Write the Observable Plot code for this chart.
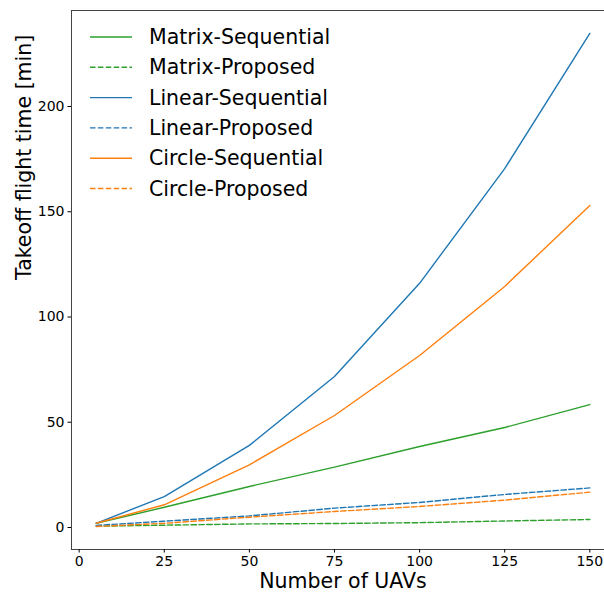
<!DOCTYPE html>
<html>
<head>
<meta charset="utf-8">
<script src="https://cdn.jsdelivr.net/npm/d3@7"></script>
<script src="https://cdn.jsdelivr.net/npm/@observablehq/plot@0.6"></script>
<style>
  html, body { margin: 0; padding: 0; background: #fff; overflow: hidden; width: 604px; height: 592px; }
  #wrap { position: relative; width: 604px; height: 592px; }
  #legend { position: absolute; left: 0; top: 0; }
  svg text { font-family: "DejaVu Sans", sans-serif; }
</style>
</head>
<body>
<div id="wrap"></div>
<script>
const uavs = [5, 25, 50, 75, 100, 125, 150];
const matrixSeq = [2, 9.6, 19.5, 28.7, 38.5, 47.5, 58.4];
const matrixProp = [0.6, 1.1, 1.7, 1.9, 2.3, 3.1, 3.8];
const linearSeq = [2, 14.7, 39, 71.7, 116, 170.5, 234.7];
const linearProp = [1, 3, 5.5, 9.2, 11.9, 15.7, 18.8];
const circleSeq = [2, 10.8, 29.8, 53.2, 81.7, 114.5, 153];
const circleProp = [0.5, 2, 4.9, 7.6, 10, 13, 16.8];
const seriesNames = ["Matrix-Sequential", "Matrix-Proposed", "Linear-Sequential", "Linear-Proposed", "Circle-Sequential", "Circle-Proposed"];
const seriesValues = [matrixSeq, matrixProp, linearSeq, linearProp, circleSeq, circleProp];
const seriesColors = ["#2ca02c", "#2ca02c", "#1f77b4", "#1f77b4", "#ff7f0e", "#ff7f0e"];
const seriesDashed = [false, true, false, true, false, true];
const xTicks = [0, 25, 50, 75, 100, 125, 150];
const yTicks = [0, 50, 100, 150, 200];
const xDomain = [-2.25, 157.25];
const yDomain = [-10.45, 245.6];
const xLabel = "Number of UAVs";
const yLabel = "Takeoff flight time [min]";

const DASH = "5.5,2.4";
const marks = [];
seriesNames.forEach((name, i) => {
  const rows = uavs.map((u, j) => ({x: u, y: seriesValues[i][j]}));
  marks.push(Plot.line(rows, {
    x: "x", y: "y", stroke: seriesColors[i], strokeWidth: 1.4,
    strokeDasharray: seriesDashed[i] ? DASH : null
  }));
});

const chart = Plot.plot({
  width: 614,
  height: 592,
  marginLeft: 71,
  marginRight: 0,
  marginTop: 10,
  marginBottom: 43,
  style: {fontFamily: "DejaVu Sans, sans-serif", fontSize: "14px", color: "#000", background: "#fff", maxWidth: "none"},
  x: {domain: xDomain},
  y: {domain: yDomain},
  marks: [
    Plot.ruleX([xDomain[0]], {stroke: "#444", strokeWidth: 1}),
    Plot.ruleY(yDomain, {stroke: "#444", strokeWidth: 1}),
    ...marks,
    Plot.axisX(xTicks, {tickSize: 3.5, tickPadding: 3.5, fontSize: 14, label: null}),
    Plot.axisY(yTicks, {tickSize: 3.5, tickPadding: 3.5, fontSize: 14, label: null}),
    Plot.text([xLabel], {frameAnchor: "bottom", dy: 32, fontSize: 20.5, lineAnchor: "middle", fill: "#000"}),
    Plot.text([yLabel], {frameAnchor: "left", dx: -47, rotate: -90, fontSize: 20.5, lineAnchor: "middle", fill: "#000"})
  ]
});
const wrap = document.getElementById("wrap");
wrap.appendChild(chart);

// legend
const leg = d3.select(wrap).append("svg").attr("id", "legend").attr("width", 360).attr("height", 210);
seriesNames.forEach((name, i) => {
  const cy = 37 + i * 30.3;
  leg.append("line").attr("x1", 90).attr("x2", 132).attr("y1", cy).attr("y2", cy)
    .attr("stroke", seriesColors[i]).attr("stroke-width", 1.4)
    .attr("stroke-dasharray", seriesDashed[i] ? DASH : null);
  leg.append("text").attr("x", 149).attr("y", cy).attr("dy", "0.35em")
    .attr("font-size", 20.5).attr("fill", "#000")
    .style("font-family", "DejaVu Sans, sans-serif").text(name);
});
</script>
</body>
</html>
